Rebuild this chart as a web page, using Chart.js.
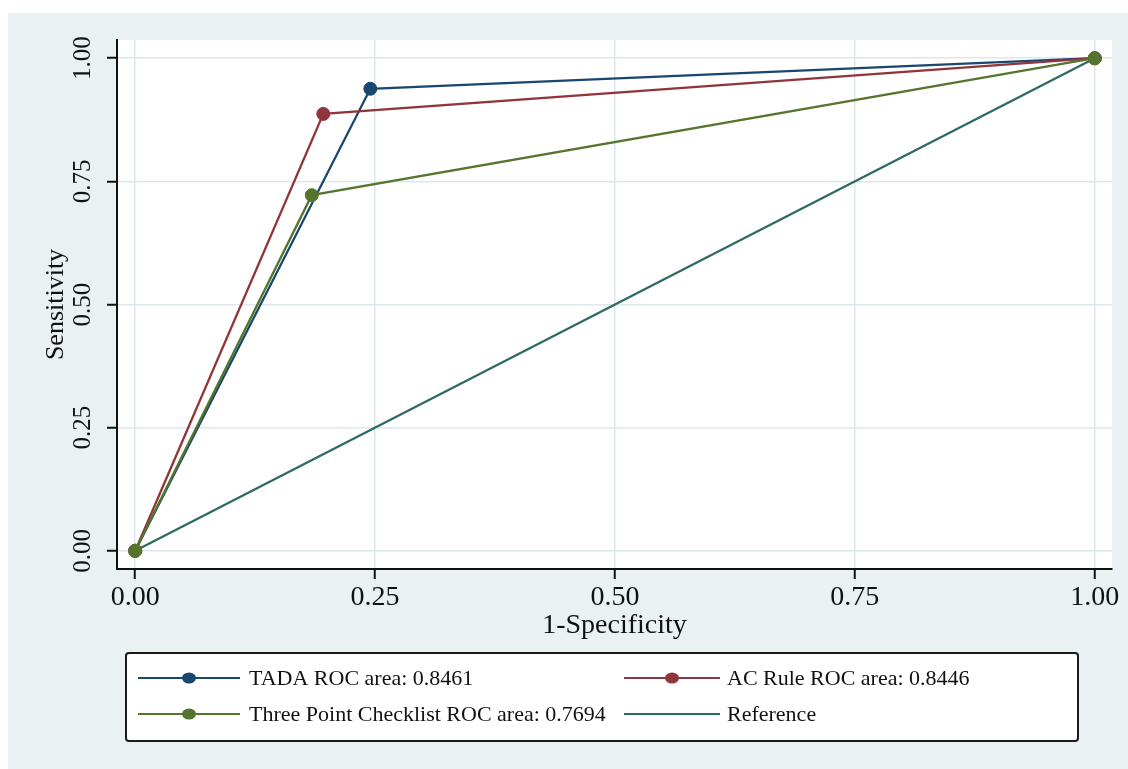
<!DOCTYPE html>
<html>
<head>
<meta charset="utf-8">
<script src="https://cdn.jsdelivr.net/npm/chart.js@4"></script>
<style>
  html, body { margin: 0; padding: 0; background: #ffffff; }
  #roc { display: block; }
</style>
</head>
<body>
<canvas id="roc" width="1128" height="769"></canvas>
<script>
// data
const tickValues = [0, 0.25, 0.5, 0.75, 1]
const seriesLabels = [
  "TADA ROC area: 0.8461",
  "AC Rule ROC area: 0.8446",
  "Three Point Checklist ROC area: 0.7694",
  "Reference"
]
const tadaFpr = [0, 0.245, 1]
const tadaSens = [0, 0.938, 1]
const acFpr = [0, 0.196, 1]
const acSens = [0, 0.887, 1]
const tpcFpr = [0, 0.184, 1]
const tpcSens = [0, 0.722, 1]
const refFpr = [0, 1]
const refSens = [0, 1]

const colors = ["#1a476f", "#90353b", "#55752f", "#2e6a62"]
const serif = "'Liberation Serif', 'Times New Roman', serif"

const toPoints = (xs, ys) => xs.map((x, i) => ({x: x, y: ys[i]}))

// background: outer panel + white plot region
const backdrop = {
  id: "backdrop",
  beforeDraw(chart) {
    const {ctx, chartArea: a} = chart
    ctx.save()
    ctx.fillStyle = "#ffffff"
    ctx.fillRect(0, 0, chart.width, chart.height)
    ctx.fillStyle = "#e9f1f3"
    ctx.fillRect(8, 13, chart.width - 8, chart.height - 13)
    ctx.fillStyle = "#ffffff"
    ctx.fillRect(a.left, a.top, a.right - a.left, a.bottom - a.top)
    ctx.restore()
  }
}

// y tick labels are rotated in the original, draw them here
const yLabels = {
  id: "yLabels",
  afterDraw(chart) {
    const {ctx} = chart
    const y = chart.scales.y
    ctx.save()
    ctx.fillStyle = "#111"
    ctx.font = "25px " + serif
    ctx.textAlign = "center"
    ctx.textBaseline = "middle"
    tickValues.forEach(v => {
      ctx.save()
      ctx.translate(83, y.getPixelForValue(v))
      ctx.rotate(-Math.PI / 2)
      ctx.fillText(v.toFixed(2), 0, 0)
      ctx.restore()
    })
    ctx.restore()
  }
}

// boxed two-column legend under the plot
const boxLegend = {
  id: "boxLegend",
  afterDraw(chart) {
    const {ctx} = chart
    ctx.save()
    ctx.fillStyle = "#ffffff"
    ctx.strokeStyle = "#1a1a1a"
    ctx.lineWidth = 2
    ctx.beginPath()
    ctx.roundRect(126, 653, 952, 88, 3)
    ctx.fill()
    ctx.stroke()

    const cols = [[138, 240, 249], [624, 720, 727]]
    const rows = [678, 714]
    // reading order: TADA, AC Rule / Three Point, Reference
    chart.data.datasets.forEach((ds, i) => {
      const c = cols[i % 2]
      const yy = rows[Math.floor(i / 2)]
      ctx.strokeStyle = ds.borderColor
      ctx.lineWidth = 2
      ctx.beginPath()
      ctx.moveTo(c[0], yy)
      ctx.lineTo(c[1], yy)
      ctx.stroke()
      if (ds.pointRadius > 0) {
        ctx.fillStyle = ds.backgroundColor
        ctx.beginPath()
        ctx.ellipse((c[0] + c[1]) / 2, yy, 7, 5.5, 0, 0, Math.PI * 2)
        ctx.fill()
      }
      ctx.fillStyle = "#111"
      ctx.font = "22px " + serif
      ctx.textAlign = "left"
      ctx.textBaseline = "middle"
      ctx.fillText(ds.label, c[2], yy + 1)
    })
    ctx.restore()
  }
}

const mkSet = (i, pts, order, radius) => ({
  label: seriesLabels[i],
  data: pts,
  borderColor: colors[i],
  backgroundColor: colors[i],
  pointBackgroundColor: colors[i],
  pointBorderColor: colors[i],
  borderWidth: 2.3,
  pointRadius: radius,
  pointBorderWidth: 1,
  showLine: true,
  tension: 0,
  order: order
})

new Chart(document.getElementById("roc"), {
  type: "scatter",
  data: {
    datasets: [
      mkSet(0, toPoints(tadaFpr, tadaSens), 3, 6.5),
      mkSet(1, toPoints(acFpr, acSens), 2, 6.5),
      mkSet(2, toPoints(tpcFpr, tpcSens), 1, 6.5),
      mkSet(3, toPoints(refFpr, refSens), 4, 0)
    ]
  },
  plugins: [backdrop, yLabels, boxLegend],
  options: {
    responsive: false,
    animation: false,
    layout: { padding: { left: 0, top: 40, right: 16, bottom: 127 } },
    plugins: {
      legend: { display: false },
      tooltip: { enabled: false }
    },
    scales: {
      x: {
        type: "linear",
        min: -0.019,
        max: 1.018,
        afterBuildTicks: (s) => { s.ticks = tickValues.map(v => ({value: v})) },
        afterFit: (s) => { s.height = 73 },
        border: { color: "#111", width: 2 },
        grid: { color: "#dce8eb", lineWidth: 1.5, tickColor: "#111", tickWidth: 2, tickLength: 10 },
        ticks: {
          color: "#111",
          padding: 2,
          maxRotation: 0,
          font: { family: serif, size: 28 },
          callback: (v) => Number(v).toFixed(2)
        },
        title: {
          display: true,
          text: "1-Specificity",
          color: "#111",
          padding: 0,
          font: { family: serif, size: 28 }
        }
      },
      y: {
        type: "linear",
        min: -0.037,
        max: 1.037,
        afterBuildTicks: (s) => { s.ticks = tickValues.map(v => ({value: v})) },
        afterFit: (s) => { s.width = 117 },
        border: { color: "#111", width: 2 },
        grid: { color: "#dce8eb", lineWidth: 1.5, tickColor: "#111", tickWidth: 2, tickLength: 10 },
        ticks: { display: false },
        title: {
          display: true,
          text: "Sensitivity",
          color: "#111",
          padding: { top: 41, bottom: 0 },
          font: { family: serif, size: 26 }
        }
      }
    }
  }
})
</script>
</body>
</html>
